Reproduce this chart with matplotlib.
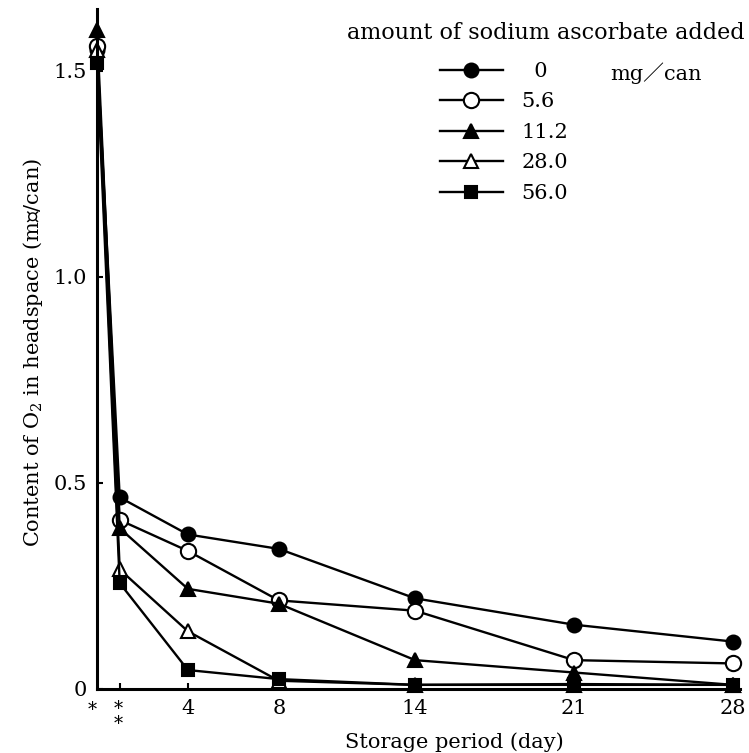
import matplotlib
matplotlib.use("Agg")
import matplotlib.pyplot as plt
import matplotlib.transforms as mtransforms

plt.rcParams['font.family'] = ['DejaVu Serif', 'DejaVu Sans', 'Noto Sans CJK JP']
plt.rcParams['mathtext.fontset'] = 'dejavuserif'

# storage days (day 0 and day 1 are the two starred points)
days = [0, 1, 4, 8, 14, 21, 28]

# O2 in headspace (ml/can) for each amount of sodium ascorbate added
o2_0 = [1.55, 0.465, 0.375, 0.34, 0.22, 0.156, 0.115]
o2_56 = [1.56, 0.41, 0.335, 0.215, 0.19, 0.07, 0.062]
o2_112 = [1.60, 0.39, 0.243, 0.207, 0.07, 0.04, 0.01]
o2_280 = [1.55, 0.29, 0.14, 0.02, 0.01, 0.01, 0.01]
o2_560 = [1.52, 0.257, 0.046, 0.024, 0.01, 0.012, 0.01]

series_labels = ['  0', '5.6', '11.2', '28.0', '56.0']
xtick_days = [4, 8, 14, 21, 28]
ytick_vals = [0, 0.5, 1.0, 1.5]
ytick_labels = ['0', '0.5', '1.0', '1.5']

fig = plt.figure(figsize=(7.49, 7.53), dpi=100)
ax = fig.add_axes([0.1295, 0.085, 0.8585, 0.903])

lw = 1.7
styles = [
    dict(marker='o', mfc='black', ms=10),
    dict(marker='o', mfc='white', ms=11),
    dict(marker='^', mfc='black', ms=10),
    dict(marker='^', mfc='white', ms=10),
    dict(marker='s', mfc='black', ms=9),
]
data = [o2_0, o2_56, o2_112, o2_280, o2_560]
handles = []
for vals, st, lab in zip(data, styles, series_labels):
    h, = ax.plot(days, vals, color='black', lw=lw, mec='black', mew=1.5,
                 clip_on=False, label=lab, **st)
    handles.append(h)

ax.set_xlim(0, 28.3)
ax.set_ylim(0, 1.65)
for s in ['top', 'right']:
    ax.spines[s].set_visible(False)
for s in ['left', 'bottom']:
    ax.spines[s].set_linewidth(2.2)

ax.set_xticks([1] + xtick_days)
ax.set_xticklabels([''] + [str(d) for d in xtick_days], fontsize=15)
ax.set_yticks(ytick_vals)
ax.set_yticklabels(ytick_labels, fontsize=15)
ax.tick_params(direction='in', length=4, width=1.5, pad=7)

# asterisks under day 0 and day 1
trans = mtransforms.blended_transform_factory(ax.transData, ax.transAxes)
ax.annotate('*', xy=(-0.2, 0), xycoords=trans, xytext=(0, -9),
            textcoords='offset points', ha='center', va='top', fontsize=13)
ax.annotate('*\n*', xy=(0.95, 0), xycoords=trans, xytext=(0, -8),
            textcoords='offset points', ha='center', va='top', fontsize=13,
            linespacing=0.75)

fig.text(0.606, 1 - 742 / 753, 'Storage period (day)', ha='center', va='center',
         fontsize=15)
fig.text(33 / 749, 1 - 353 / 753, 'Content of O$_2$ in headspace (mℓ/can)',
         rotation=90, ha='center', va='center', fontsize=15)

fig.text(745 / 749, 1 - 33 / 753, 'amount of sodium ascorbate added',
         ha='right', va='center', fontsize=16)
fig.legend(handles=handles, loc='upper left', bbox_to_anchor=(440 / 749, 1 - 62 / 753),
           frameon=False, fontsize=15, handlelength=3.0, handletextpad=0.9,
           labelspacing=0.55, numpoints=1, borderpad=0, borderaxespad=0)
fig.text(610 / 749, 1 - 73 / 753, 'mg／can', ha='left', va='center', fontsize=15)

fig.savefig('out.png', dpi=100)
